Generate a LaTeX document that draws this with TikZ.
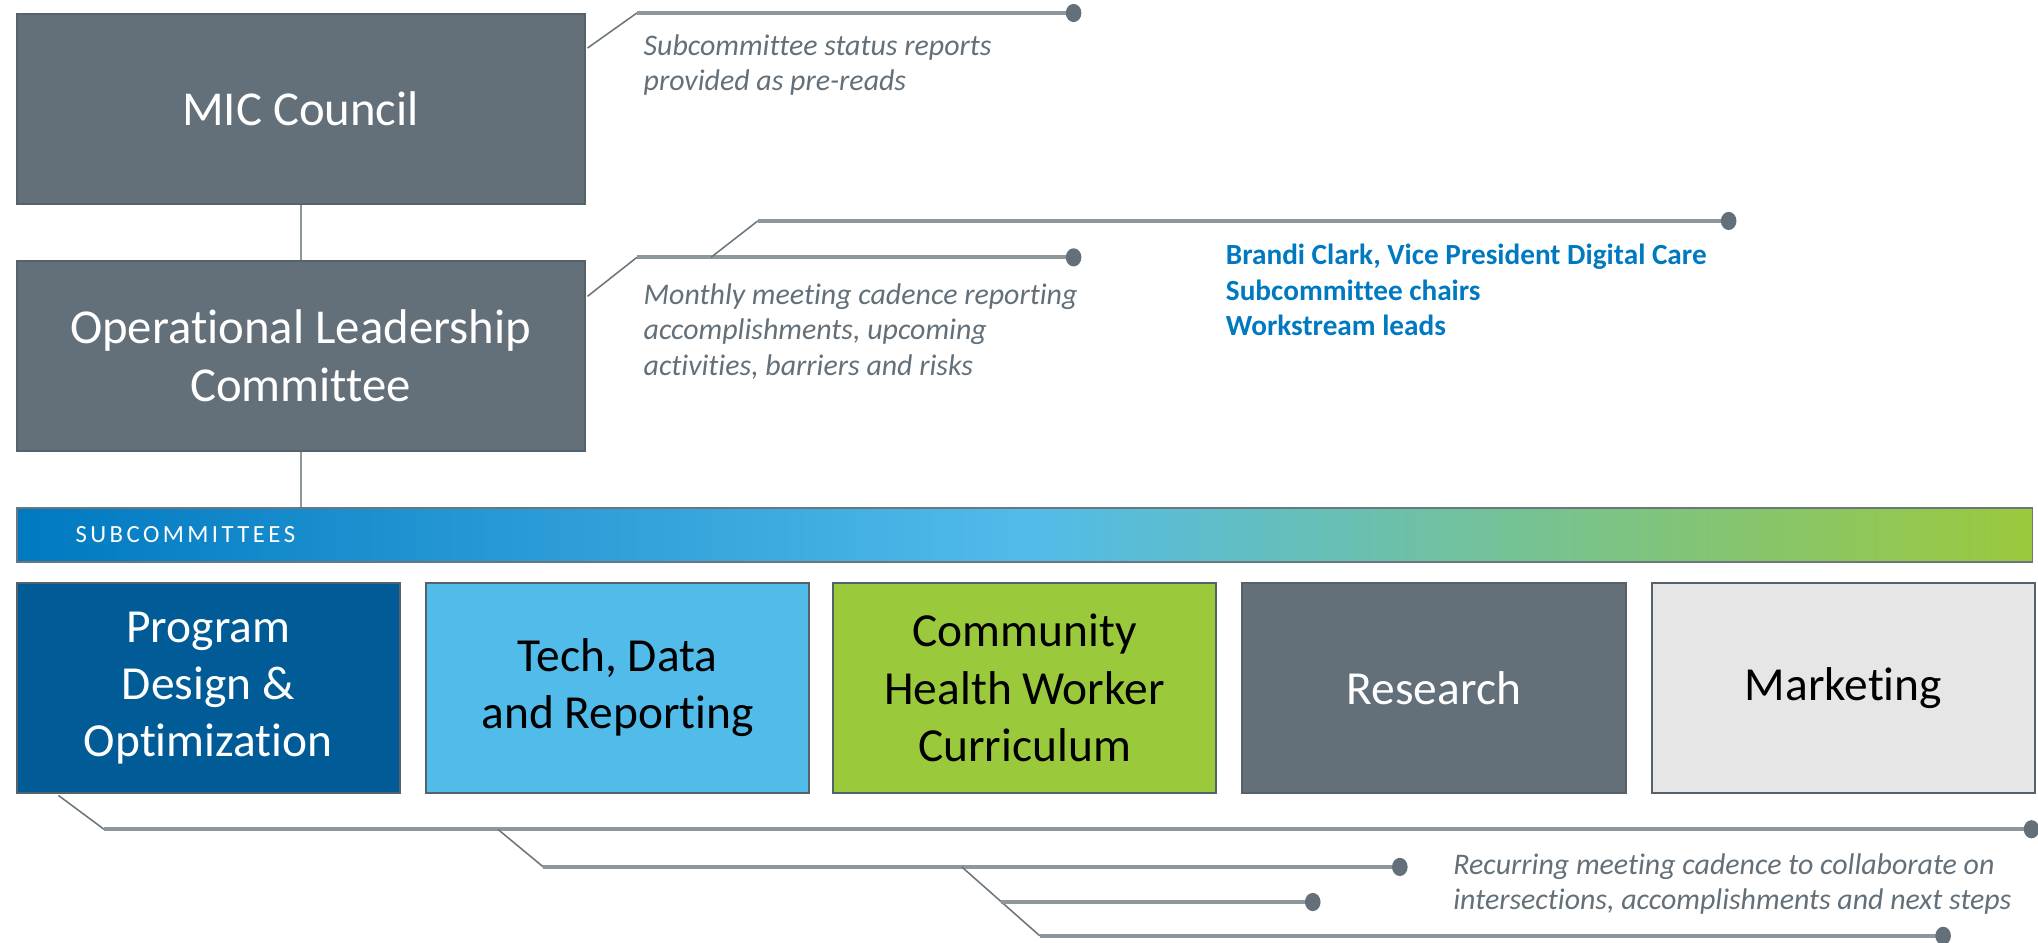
\documentclass[tikz,border=0pt]{standalone}
\usepackage{fontspec}
\setmainfont{Carlito}[Ligatures=NoCommon]
\definecolor{slate}{HTML}{637079}
\definecolor{slateedge}{HTML}{56626A}
\definecolor{leadgray}{HTML}{8E979C}
\definecolor{diaggray}{HTML}{6B767D}
\definecolor{navy}{HTML}{005B96}
\definecolor{sky}{HTML}{51BBEA}
\definecolor{lime}{HTML}{9BC93C}
\definecolor{pale}{HTML}{E6E6E6}
\definecolor{azure}{HTML}{0079C1}
\tikzset{
  box/.style={draw=slateedge, line width=1.5pt, anchor=north west, align=center,
    minimum height=146, minimum width=437, inner sep=0pt,
    font=\fontsize{37.5}{44}\selectfont},
  subbox/.style={draw=slateedge, line width=1.5pt, anchor=north west, align=center,
    minimum height=161, minimum width=295, inner sep=0pt,
    font=\fontsize{36.5}{44}\selectfont},
  tie/.style={draw=leadgray, line width=1.5pt},
  diag/.style={draw=diaggray, line width=1.2pt},
  lead/.style={draw=leadgray, line width=3pt},
  note/.style={anchor=west, align=left, text=slate, inner sep=0pt,
    font=\fontsize{23}{27}\selectfont\itshape},
  blue/.style={anchor=west, align=left, text=azure, inner sep=0pt,
    font=\fontsize{22.5}{27}\selectfont\bfseries},
  dot/.style={fill=slate}
}
\begin{document}
\begin{tikzpicture}[x=1pt,y=-1pt]
\useasboundingbox (0,0) rectangle (1568,725.5);

% top boxes
\node[box, fill=slate, text=white] (mic) at (12,10) {MIC Council};
\node[box, fill=slate, text=white] (olc) at (12,200) {Operational Leadership\\Committee};

% subcommittee bar
\node[draw=diaggray, line width=1.5pt, anchor=north west, minimum width=1551, minimum height=42,
  inner sep=0pt, left color=azure, right color=lime, middle color=sky] (bar) at (12,390) {};
\node[anchor=west, text=white, inner sep=0pt,
  font=\fontsize{19}{22}\selectfont\addfontfeature{LetterSpace=14}] (bartxt) at (58,411) {SUBCOMMITTEES};

% vertical ties
\draw[tie] (mic.south) -- (olc.north);
\draw[tie] (olc.south) -- (olc.south |- bar.north);

% subcommittee boxes
\node[subbox, fill=navy, text=white] (s1) at (12,448) {Program\\Design \&\\Optimization};
\node[subbox, fill=sky, text=black] (s2) at (327,448) {Tech, Data\\and Reporting};
\node[subbox, fill=lime, text=black] (s3) at (640,448) {Community\\Health Worker\\Curriculum};
\node[subbox, fill=slate, text=white] (s4) at (955,448) {Research};
\node[subbox, fill=pale, text=black] (s5) at (1270,448) {Marketing};

% top callouts
\coordinate (m1) at (452,37);
\coordinate (m2) at (490,10);
\coordinate (m3) at (826,10);
\draw[diag] (m1) -- (m2);
\draw[lead] (m2) -- (m3);
\fill[dot] (m3) ellipse (6 and 7);
\node[note] (mnote) at (495,50) {Subcommittee status reports\\provided as pre-reads};

\coordinate (o1) at (452,228);
\coordinate (o2) at (490,198);
\coordinate (o3) at (826,198);
\draw[diag] (o1) -- (o2);
\draw[lead] (o2) -- (o3);
\fill[dot] (o3) ellipse (6 and 7);

\coordinate (p1) at (547,198);
\coordinate (p2) at (583,170);
\coordinate (p3) at (1330,170);
\draw[diag] (p1) -- (p2);
\draw[lead] (p2) -- (p3);
\fill[dot] (p3) ellipse (6 and 7);

\node[note] (onote) at (495,255) {Monthly meeting cadence reporting\\accomplishments, upcoming\\activities, barriers and risks};
\node[blue] (members) at (943,223) {Brandi Clark, Vice President Digital Care\\Subcommittee chairs\\Workstream leads};

% bottom callouts
\coordinate (b0) at (45,612);
\coordinate (a1) at (80,638);
\coordinate (a2) at (1563,638);
\draw[diag] (b0) -- (a1);
\draw[lead] (a1) -- (a2);
\fill[dot] (a2) ellipse (6 and 7);

\coordinate (bb0) at (383,638);
\coordinate (bb1) at (418,667);
\coordinate (bb2) at (1077,667);
\draw[diag] (bb0) -- (bb1);
\draw[lead] (bb1) -- (bb2);
\fill[dot] (bb2) ellipse (6 and 7);

\coordinate (c0) at (740,667);
\coordinate (c1) at (770,694);
\coordinate (c2) at (1010,694);
\coordinate (d1) at (800,720);
\coordinate (d2) at (1495,720);
\draw[diag] (c0) -- (d1);
\draw[lead] (c1) -- (c2);
\draw[lead] (d1) -- (d2);
\fill[dot] (c2) ellipse (6 and 7);
\fill[dot] (d2) ellipse (6 and 7);

\node[note] (bnote) at (1118,680) {Recurring meeting cadence to collaborate on\\intersections, accomplishments and next steps};
\end{tikzpicture}
\end{document}
